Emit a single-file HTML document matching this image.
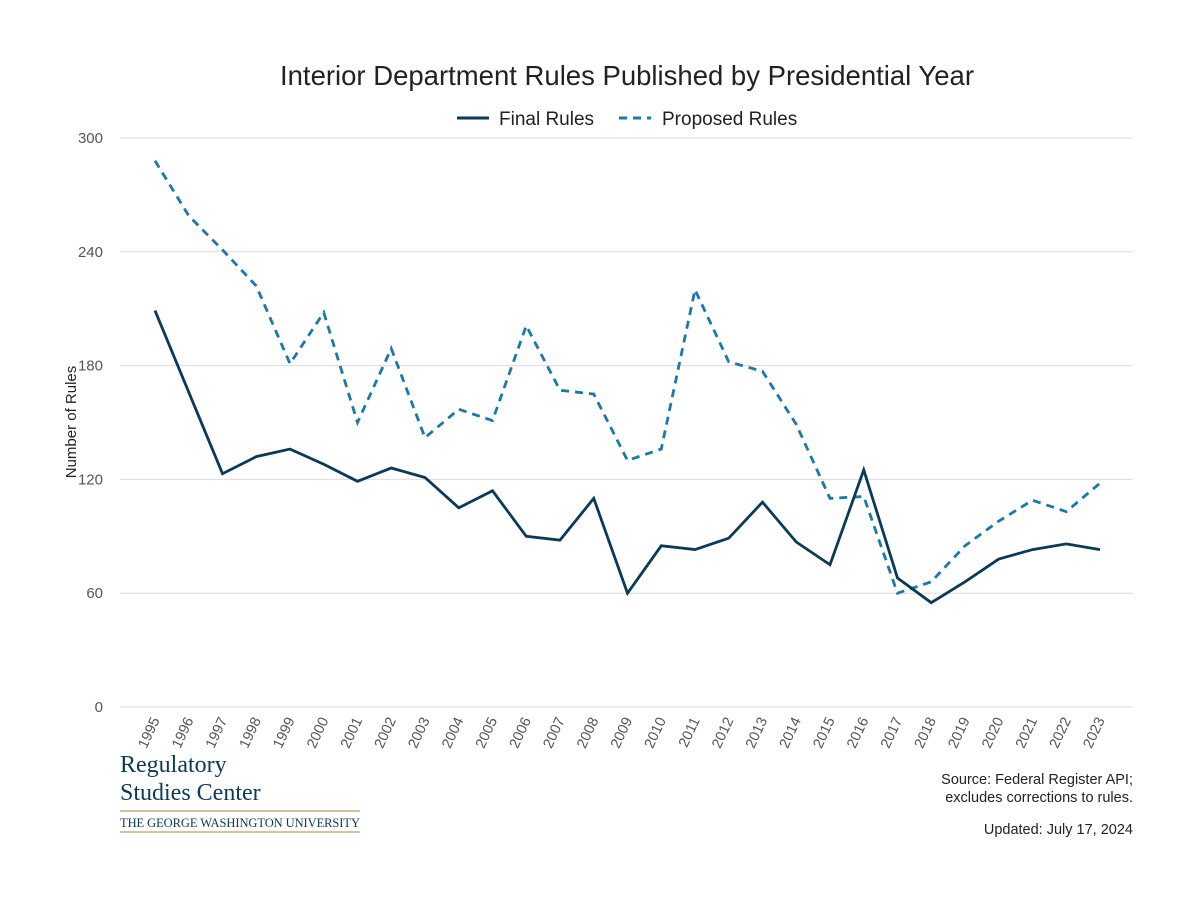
<!DOCTYPE html>
<html><head><meta charset="utf-8"><style>
body{margin:0;background:#fff;font-family:"Liberation Sans",sans-serif;}
svg text{font-family:"Liberation Sans",sans-serif;}
</style></head><body>
<svg id="c" width="1200" height="900" xmlns="http://www.w3.org/2000/svg">
<text x="627" y="85" text-anchor="middle" font-size="27.5" fill="#222">Interior Department Rules Published by Presidential Year</text>
<g>
<line x1="457" y1="118" x2="489" y2="118" stroke="#0b3a57" stroke-width="3"/>
<text x="499" y="125" font-size="19" fill="#222">Final Rules</text>
<line x1="619" y1="118" x2="651" y2="118" stroke="#1a78aa" stroke-width="3" stroke-dasharray="8,6"/>
<text x="662" y="125" font-size="19" fill="#222">Proposed Rules</text>
</g>
<g id="grid"></g><g id="xt"></g><g id="series"></g>
<text transform="translate(76,422) rotate(-90)" text-anchor="middle" font-size="15" fill="#222">Number of Rules</text>
<g>
<text x="120" y="772" font-size="24" fill="#0b3a57" style="font-family:'Liberation Serif',serif">Regulatory</text>
<text x="120" y="800" font-size="24" fill="#0b3a57" style="font-family:'Liberation Serif',serif">Studies Center</text>
<line x1="120" y1="811" x2="360" y2="811" stroke="#c9b27c" stroke-width="1.5"/>
<text x="120" y="827" font-size="12.5" fill="#0b3a57" textLength="240" style="font-family:'Liberation Serif',serif">THE GEORGE WASHINGTON UNIVERSITY</text>
<line x1="120" y1="832" x2="360" y2="832" stroke="#c9b27c" stroke-width="1.5"/>
</g>
<text x="1133" y="784" text-anchor="end" font-size="14.5" fill="#222">Source: Federal Register API;</text>
<text x="1133" y="802" text-anchor="end" font-size="14.5" fill="#222">excludes corrections to rules.</text>
<text x="1133" y="834" text-anchor="end" font-size="14.5" fill="#222">Updated: July 17, 2024</text>
</svg>
<script>
const years=[1995,1996,1997,1998,1999,2000,2001,2002,2003,2004,2005,2006,2007,2008,2009,2010,2011,2012,2013,2014,2015,2016,2017,2018,2019,2020,2021,2022,2023];
const finalRules=[209,166,123,132,136,128,119,126,121,105,114,90,88,110,60,85,83,89,108,87,75,125,68,55,66,78,83,86,83];
const proposedRules=[288,259,241,222,181,208,150,189,142,157,151,201,167,165,130,136,220,182,177,149,110,111,60,66,85,98,109,103,118];
const yTicks=[0,60,120,180,240,300];
const NS="http://www.w3.org/2000/svg";
const X=i=>155+i*(945/28);
const Y=v=>707-v*(569/300);
function mk(t,a,p){const e=document.createElementNS(NS,t);for(const k in a)e.setAttribute(k,a[k]);p.appendChild(e);return e;}
const grid=document.getElementById('grid');
yTicks.forEach(t=>{
 const l=mk('line',{x1:120,x2:1133,y1:Y(t),y2:Y(t),stroke:'#dcdcdc','stroke-width':1},grid);
 
 
 const tx=mk('text',{x:103,y:Y(t)+5,'text-anchor':'end','font-size':15,fill:'#555'},grid);
 tx.textContent=t;
 
 
});
const xt=document.getElementById('xt');
years.forEach((yr,i)=>{
 const tx=mk('text',{transform:`translate(${X(i)+5},${720}) rotate(-65)`,'text-anchor':'end','font-size':14.5,fill:'#555'},xt);
 tx.textContent=yr;
 
 
});
const s=document.getElementById('series');
const p1=mk('polyline',{points:proposedRules.map((v,i)=>X(i)+','+Y(v)).join(' '),fill:'none',stroke:'#1a78aa','stroke-width':2.8,'stroke-dasharray':'8,6'},s);


const p2=mk('polyline',{points:finalRules.map((v,i)=>X(i)+','+Y(v)).join(' '),fill:'none',stroke:'#0b3a57','stroke-width':2.8},s);


</script>
</body></html>
